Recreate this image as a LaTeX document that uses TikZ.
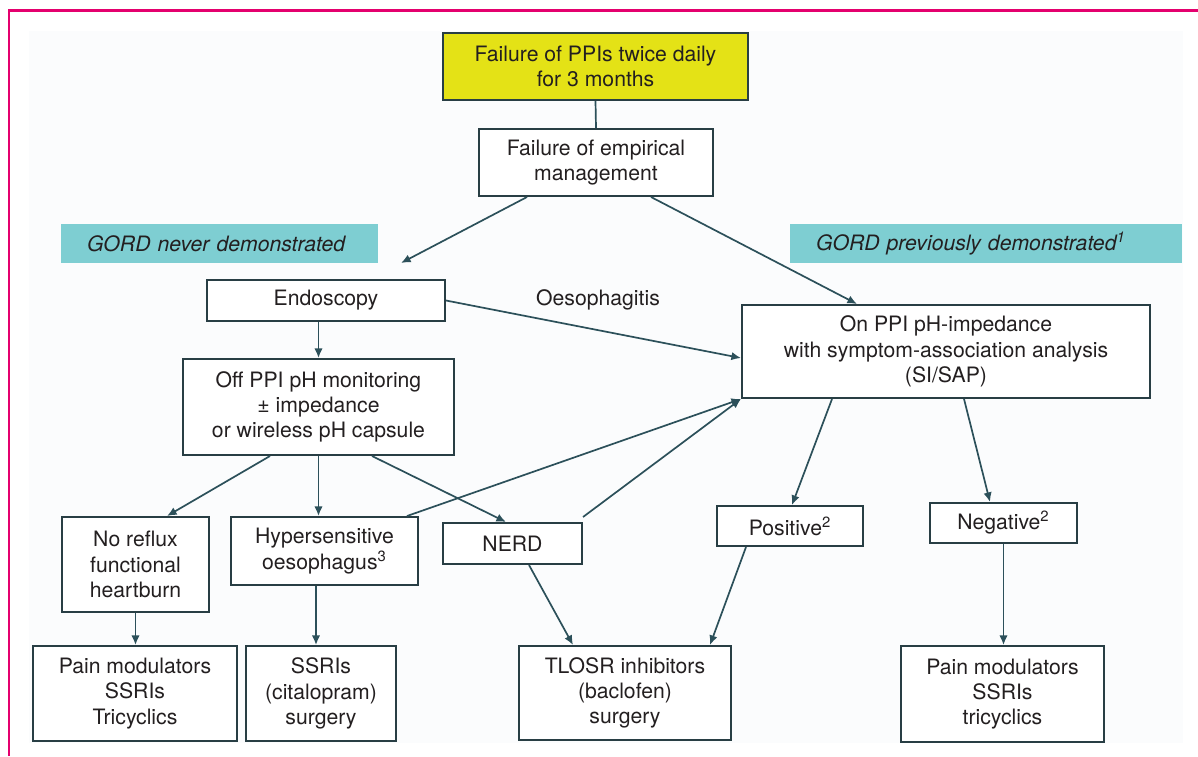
\documentclass[tikz,border=0pt]{standalone}
\usepackage{fontspec}
\setmainfont{TeX Gyre Heros}
\usetikzlibrary{arrows.meta,calc}
\definecolor{linec}{RGB}{44,80,90}
\definecolor{boxc}{RGB}{40,62,68}
\definecolor{txtc}{RGB}{35,31,32}
\definecolor{yelc}{RGB}{228,226,22}
\definecolor{cyanc}{RGB}{126,206,210}
\definecolor{panelc}{RGB}{251,252,253}
\definecolor{framec}{RGB}{228,0,110}
\newcommand\mainfs{\fontsize{10.6}{12.6}\selectfont}
\begin{document}
\begin{tikzpicture}[x=0.5pt,y=-0.5pt,
  box/.style 2 args={draw=boxc, line width=1pt, fill=white,
    minimum width=#1*0.5pt, minimum height=#2*0.5pt, inner sep=0pt,
    align=center, font=\mainfs, text=txtc},
  cyanbox/.style={fill=cyanc, inner xsep=13pt, inner ysep=0pt,
    minimum height=19.5pt, align=left, font=\mainfs\itshape, text=txtc},
  plain/.style={inner sep=0pt, font=\mainfs, text=txtc},
  conn/.style={draw=linec, line width=0.85pt},
  arr/.style={conn, -{Latex[length=4.8pt,width=4.2pt]}},
]
\useasboundingbox (0,0) rectangle (1198,756);
\fill[white] (0,0) rectangle (1198,756);
\fill[panelc] (29,31) rectangle (1183,743);
\draw[framec, line width=1.3pt] (9,756) -- (9,10.5) -- (1198,10.5);

% nodes
\node[box={305}{67}, fill=yelc] (yel) at (595.5,66.5) {Failure of PPIs twice daily\\for 3 months};
\node[box={234}{67}] (emp) at (596,162.5) {Failure of empirical\\management};
\node[cyanbox, text width=132.5pt] (gn) at (219.5,243.5) {\mbox{GORD never demonstrated}};
\node[cyanbox, text width=170pt] (gp) at (986,243.5) {\mbox{GORD previously demonstrated\textsuperscript{1}}};
\node[box={238}{41}] (endo) at (326,300.5) {Endoscopy};
\node[plain] (oes) at (598,300) {Oesophagitis};
\node[box={408}{93}] (onppi) at (946,351.5) {On PPI pH-impedance\\with symptom-association analysis\\(SI/SAP)};
\node[box={271}{96}] (offppi) at (318.5,407) {Off PPI pH monitoring\\± impedance\\or wireless pH capsule};
\node[box={147}{95}] (norefl) at (135.5,564.5) {No reflux\\functional\\heartburn};
\node[box={187}{68}] (hyper) at (324.5,551) {Hypersensitive\\oesophagus\textsuperscript{3}};
\node[box={139}{41}] (nerd) at (512.5,543.5) {NERD};
\node[box={146}{40}] (pos) at (790,526) {Positive\textsuperscript{2}};
\node[box={147}{40}] (neg) at (1003.5,523) {Negative\textsuperscript{2}};
\node[box={204}{95}] (painL) at (135,693.5) {Pain modulators\\SSRIs\\Tricyclics};
\node[box={150}{95}] (ssri) at (321,693.5) {SSRIs\\(citalopram)\\surgery};
\node[box={212}{94}] (tlosr) at (625,693) {TLOSR inhibitors\\(baclofen)\\surgery};
\node[box={203}{96}] (painR) at (1002.5,694) {Pain modulators\\SSRIs\\tricyclics};
\coordinate (tipL) at (401,263);

% connectors
\draw[conn] (yel.south) -- (emp.north);
\draw[arr] ($(emp.south west)+(49,0)$) -- (tipL);
\draw[arr] ($(emp.south west)+(173,0)$) -- ($(onppi.north west)+(116,0)$);
\draw[arr] (endo.east) -- ($(onppi.west)+(0,6.5)$);
\draw[arr] (endo.south -| offppi.north) -- (offppi.north);
\draw[arr] ($(offppi.south west)+(88,0)$) -- ($(norefl.north west)+(106,0)$);
\draw[arr] (offppi.south) -- (offppi.south |- hyper.north);
\draw[arr] ($(offppi.south west)+(190,0)$) -- ($(nerd.north west)+(64,0)$);
\draw[arr] ($(hyper.north east)+(-12,0)$) -- (onppi.south west);
\draw[arr] ($(nerd.north east)+(0,-5)$) -- (onppi.south west);
\draw[arr] ($(onppi.south west)+(91,0)$) -- ($(pos.north west)+(76,0)$);
\draw[arr] ($(onppi.south west)+(223,0)$) -- ($(neg.north west)+(61,0)$);
\draw[arr] (norefl.south) -- (norefl.south |- painL.north);
\draw[arr] ($(hyper.south west)+(86,0)$) -- ($(ssri.north west)+(71,0)$);
\draw[arr] ($(nerd.south west)+(87,0)$) -- ($(tlosr.north west)+(55,0)$);
\draw[arr] ($(pos.south west)+(30,0)$) -- ($(tlosr.north west)+(192,0)$);
\draw[arr] (neg.south) -- (neg.south |- painR.north);
\end{tikzpicture}
\end{document}
